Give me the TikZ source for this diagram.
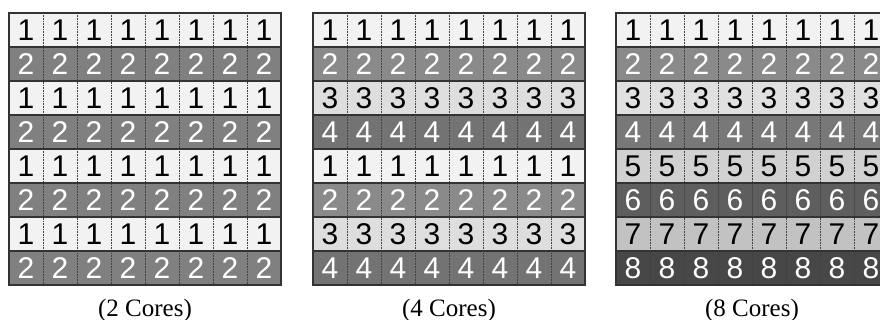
\documentclass[tikz,border=0pt]{standalone}
\usepackage{fontspec}
\setmainfont{Liberation Serif}
\newfontfamily\cellfont{Liberation Sans}
\usepackage{xcolor}
\usepackage{tikz}
\usetikzlibrary{positioning}

\begin{document}
\begin{tikzpicture}[x=1pt, y=-1pt,
  cell/.style={minimum width=34pt, minimum height=34pt, inner sep=0pt, outer sep=0pt, font=\cellfont\fontsize{30}{30}\selectfont},
  colsep/.style={draw=black!75, line width=0.6pt, dash pattern=on 0.8pt off 0.8pt},
  rowsep/.style={draw=black!80, line width=1.2pt},
  frame/.style={draw=black!80, line width=1.5pt},
  caption/.style={font=\fontsize{25}{25}\selectfont, inner sep=0pt}
]
  \useasboundingbox (0,0) rectangle (880,320);
  \clip (0,0) rectangle (880,320);
  % One grid per core count: rows hold label/shade/ink
  \foreach \gx/\g/\rows/\cores in {
    9/A/{1/95/black,2/50/white,1/95/black,2/50/white,1/95/black,2/50/white,1/95/black,2/50/white}/2,
    313/B/{1/95/black,2/54/white,3/87/black,4/45/white,1/95/black,2/54/white,3/87/black,4/45/white}/4,
    616/C/{1/95/black,2/54/white,3/88/black,4/47/white,5/82/black,6/37/white,7/76/black,8/28/white}/8}{
    % Cells with their numbers
    \foreach \lab/\shade/\ink [count=\i] in \rows {
      \foreach \j in {1,...,8}{
        \node[cell, fill=white!\shade!black, text=\ink] (\g-\i-\j) at ({\gx+34*\j-17}, {13+34*\i-17}) {\lab};
      }
    }
    % Dotted lines between columns
    \foreach \j in {1,...,7}{
      \draw[colsep] (\g-1-\j.north east) -- (\g-8-\j.south east);
    }
    % Solid lines between rows
    \foreach \i in {1,...,7}{
      \draw[rowsep] (\g-\i-1.south west) -- (\g-\i-8.south east);
    }
    \draw[frame] (\g-1-1.north west) rectangle (\g-8-8.south east);
    % Caption under the grid
    \node[caption, anchor=base] (cap\g) at ({\gx+136}, 316) {(\cores\ Cores)};
  }
\end{tikzpicture}
\end{document}
